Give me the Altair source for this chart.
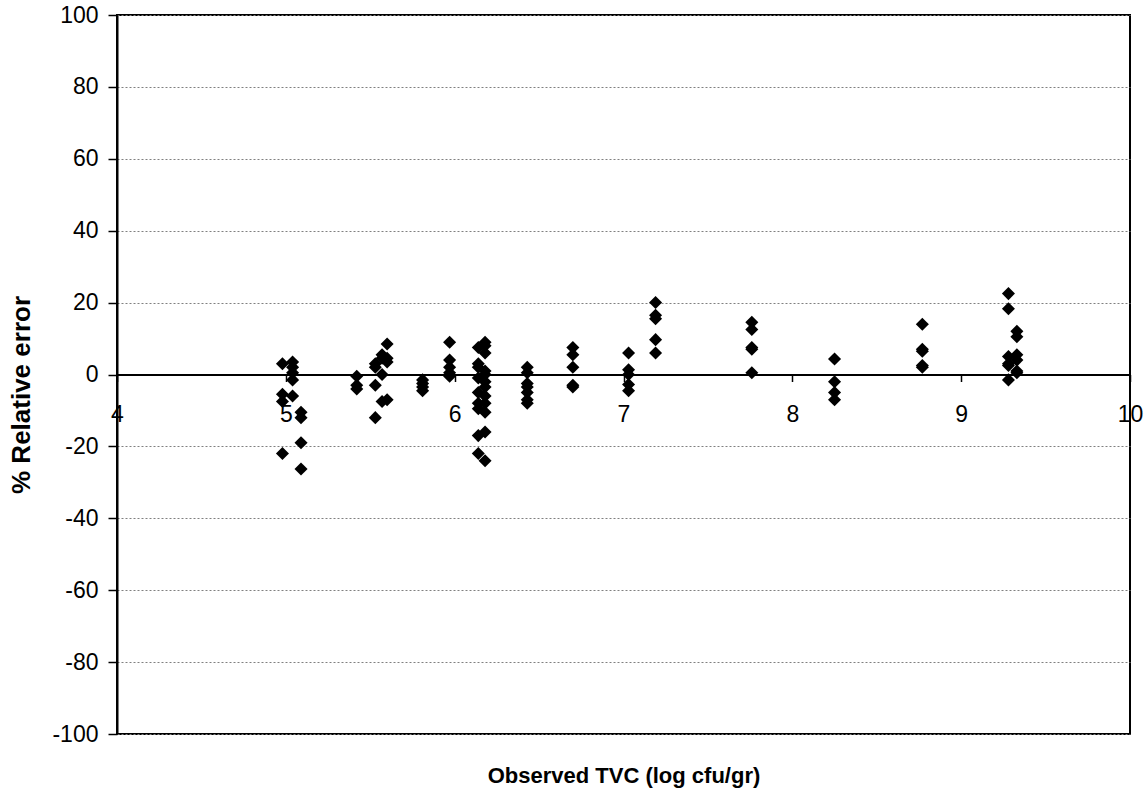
import altair as alt
import pandas as pd

# Observed TVC (log cfu/gr) for each sampling group and the % relative error of each prediction
obs_tvc = [4.98, 5.04, 5.09, 5.42, 5.53, 5.57, 5.60, 5.81, 5.97,
           6.14, 6.18, 6.43, 6.70, 7.03, 7.19, 7.76, 8.25, 8.77, 9.28, 9.33]
rel_error = [
    [3.0, -5.5, -7.5, -22.0],
    [3.5, 2.0, 0.5, -1.5, -6.0],
    [-10.5, -12.0, -19.0, -26.3],
    [-0.5, -3.0, -4.0],
    [3.0, 2.0, -3.0, -12.0],
    [5.5, 4.5, 0.0, -7.5],
    [8.5, 4.5, 3.5, -7.0],
    [-1.5, -2.5, -3.5, -4.5],
    [9.0, 4.0, 2.0, 0.5, -0.5],
    [7.5, 3.0, 2.0, -1.0, -5.0, -8.0, -9.5, -17.0, -22.0],
    [9.0, 8.0, 6.0, 1.0, 0.0, -2.0, -3.5, -6.0, -8.0, -10.5, -16.0, -24.0],
    [2.0, 0.5, -2.5, -3.5, -5.0, -7.0, -8.0],
    [7.5, 5.5, 2.0, -3.0, -3.5],
    [6.0, 1.3, 0.0, -2.8, -4.5],
    [20.0, 16.5, 15.5, 9.7, 6.0],
    [14.5, 12.5, 7.5, 7.0, 0.5],
    [4.3, -2.0, -5.0, -7.0],
    [14.0, 7.0, 6.5, 2.5, 2.0],
    [22.5, 18.3, 5.0, 3.0, 2.5, -1.5],
    [12.0, 10.5, 5.5, 4.0, 1.0, 0.5],
]
x_ticks = [4, 5, 6, 7, 8, 9, 10]
y_ticks = [-100, -80, -60, -40, -20, 0, 20, 40, 60, 80, 100]

rows = [{"tvc": x, "err": e} for x, errs in zip(obs_tvc, rel_error) for e in errs]
df = pd.DataFrame(rows)

W, H = 1013, 719
FONT = "Liberation Sans"
PLAIN_LABEL = "datum.value + ''"  # ASCII hyphen for negatives

points = alt.Chart(df).mark_point(
    shape="diamond", filled=True, color="black", size=170, opacity=1
).encode(
    x=alt.X(
        "tvc:Q",
        scale=alt.Scale(domain=[4, 10], nice=False, zero=False),
        axis=alt.Axis(
            values=x_ticks, offset=-(H / 2), grid=False,
            domainColor="black", domainWidth=2,
            tickColor="black", tickWidth=1.5, tickSize=7,
            labelPadding=22, labelFontSize=23, labelFont=FONT, labelColor="black",
            labelFlush=False, labelBound=False, labelOverlap=False,
            labelExpr=PLAIN_LABEL,
            title="Observed TVC (log cfu/gr)", titleFont=FONT, titleFontSize=22,
            titleFontWeight="bold", titleColor="black",
            titleX=W / 2, titleY=401, titleBaseline="middle", titleAnchor="middle",
        ),
    ),
    y=alt.Y(
        "err:Q",
        scale=alt.Scale(domain=[-100, 100], nice=False),
        axis=alt.Axis(
            values=y_ticks, grid=True, gridColor="#808080", gridDash=[2, 2], gridWidth=1,
            domainColor="black", domainWidth=2,
            tickColor="black", tickWidth=1.5, tickSize=9,
            labelPadding=10, labelFontSize=23, labelFont=FONT, labelColor="black",
            labelOverlap=False, labelBound=False, labelFlush=False,
            labelExpr=PLAIN_LABEL,
            title="% Relative error", titleFont=FONT, titleFontSize=26,
            titleFontWeight="bold", titleColor="black",
            titleX=-96, titleY=H / 2 + 20, titleBaseline="middle", titleAngle=-90,
        ),
    ),
)

chart = points.properties(
    width=W, height=H,
    autosize=alt.AutoSizeParams(type="none"),
    padding={"left": 117, "top": 15, "right": 18, "bottom": 60},
    background="white",
).configure_view(stroke="black", strokeWidth=2)

chart.save("out.html", embed_options={"renderer": "svg", "actions": False})
